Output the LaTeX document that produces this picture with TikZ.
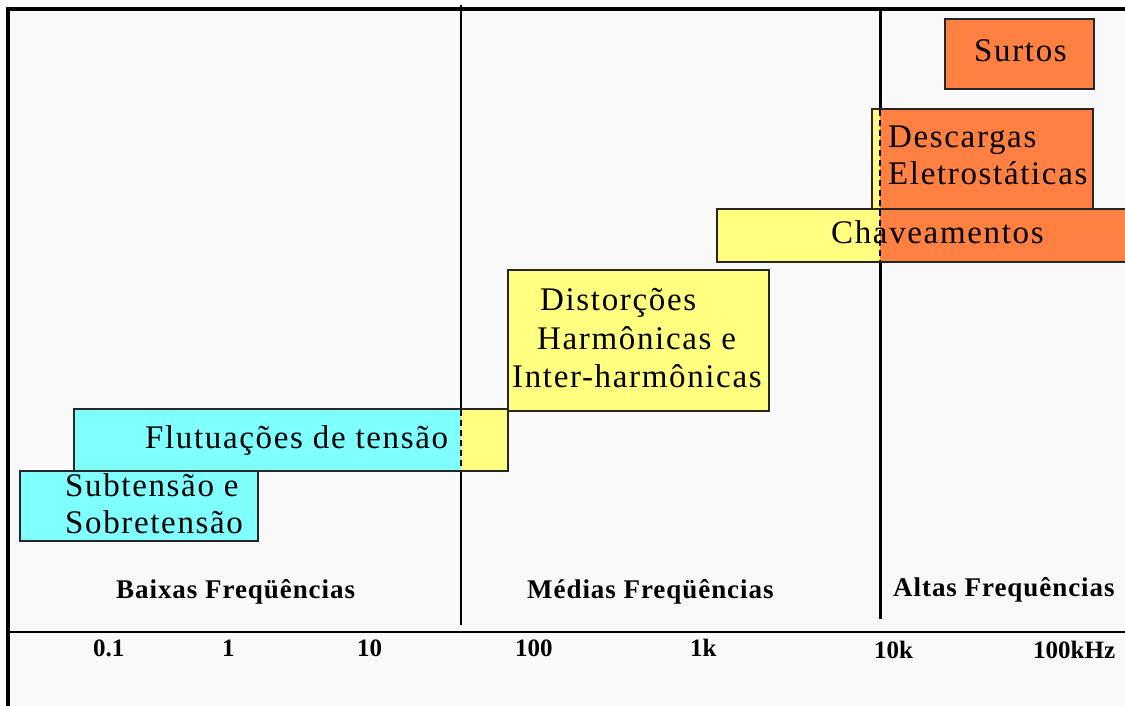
\documentclass[tikz,border=0pt]{standalone}
\usepackage{fontspec}
\setmainfont{Liberation Serif}
\newfontfamily\boxfont[LetterSpace=5]{Liberation Serif}
\newfontfamily\labfont[LetterSpace=3.5]{Liberation Serif}
\definecolor{cy}{HTML}{80FFFF}
\definecolor{yel}{HTML}{FFFF80}
\definecolor{org}{HTML}{FF8040}
\definecolor{bg}{HTML}{F9F9F9}
\begin{document}
\begin{tikzpicture}[x=1pt,y=-1pt,
  box/.style={draw=black!85,line width=1.4pt},
  btxt/.style={anchor=base west,inner sep=0pt,font=\boxfont\fontsize{33}{37}\selectfont},
  ltxt/.style={anchor=base west,inner sep=0pt,font=\labfont\bfseries\fontsize{27}{30}\selectfont},
  ntxt/.style={anchor=base west,inner sep=0pt,font=\bfseries\fontsize{25}{28}\selectfont},
  dsh/.style={dash pattern=on 6pt off 4pt}]
\useasboundingbox (0,0) rectangle (1125,706);
\fill[white] (0,0) rectangle (1125,706);
\fill[bg] (8,9) rectangle (1125,706);
% frame and axis
\draw[line width=4pt,line join=miter] (8,706) -- (8,9) -- (1125,9);
\draw[line width=1.5pt] (461,5) -- (461,625);
\draw[line width=3pt] (880,9) -- (880,619);
\draw[line width=1.5pt] (10,632) -- (1125,632);
% Flutuacoes
\fill[cy] (74,409) rectangle (461,471);
\fill[yel] (461,409) rectangle (508,471);
\draw[box] (74,409) rectangle (508,471);
\draw[dsh,line width=1.5pt] (461,410) -- (461,470);
% Subtensao
\filldraw[box,fill=cy] (20,471) rectangle (258,541);
% Distorcoes
\filldraw[box,fill=yel] (508,270) rectangle (769,411);
% Chaveamentos
\fill[yel] (717,209) rectangle (880,262);
\fill[org] (880,209) rectangle (1125,262);
\draw[box] (1126,209) -- (717,209) -- (717,262) -- (1126,262);
% Descargas
\fill[yel] (872,109) rectangle (880,209);
\fill[org] (880,109) rectangle (1093,209);
\draw[box] (872,109) rectangle (1093,209);
\draw[dsh,line width=2pt] (880,110) -- (880,261);
% Surtos
\filldraw[box,fill=org] (945,19) rectangle (1094,89);
% box texts
\node[btxt] (surtos) at (974,62) {Surtos};
\node[btxt] (desc1) at (888,148) {Descargas};
\node[btxt] (desc2) at (888,185) {Eletrostáticas};
\node[btxt] (chav) at (831,243) {Chaveamentos};
\node[btxt] (dist1) at (540,310) {Distorções};
\node[btxt] (dist2) at (537,349) {Harmônicas e};
\node[btxt] (dist3) at (512,387) {Inter-harmônicas};
\node[btxt] (flut) at (145,448) {Flutuações de tensão};
\node[btxt] (sub1) at (65,496) {Subtensão e};
\node[btxt] (sub2) at (65,533) {Sobretensão};
% region labels
\node[ltxt] (baixas) at (116,598) {Baixas Freqüências};
\node[ltxt] (medias) at (527,598) {Médias Freqüências};
\node[ltxt] (altas) at (893,596) {Altas Frequências};
% scale numbers
\node[ntxt] (n01) at (93,656) {0.1};
\node[ntxt] (n1) at (222,656) {1};
\node[ntxt] (n10) at (357,656) {10};
\node[ntxt] (n100) at (515,656) {100};
\node[ntxt] (n1k) at (690,656) {1k};
\node[ntxt] (n10k) at (874,658) {10k};
\node[ntxt] (n100k) at (1033,658) {100kHz};
\end{tikzpicture}
\end{document}
